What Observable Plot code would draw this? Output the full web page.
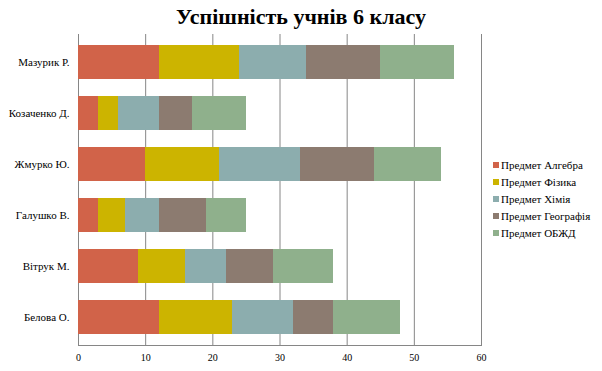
<!DOCTYPE html>
<html>
<head>
<meta charset="utf-8">
<script src="https://cdn.jsdelivr.net/npm/d3@7"></script>
<script src="https://cdn.jsdelivr.net/npm/@observablehq/plot@0.6"></script>
<style>
  html, body { margin: 0; padding: 0; background: #fff; }
  #wrap { position: relative; width: 602px; height: 371px; font-family: "Liberation Serif", "DejaVu Serif", serif; }
  #title { position: absolute; left: 0; top: 4px; width: 602px; text-align: center; font-size: 22px; font-weight: bold; color: #000; font-family: "Liberation Serif", serif; }
  #legend { position: absolute; left: 493px; top: 157px; font-size: 11px; color: #000; font-family: "Liberation Serif", serif; }
  .item { height: 16.8px; display: flex; align-items: center; white-space: nowrap; }
  .sw { width: 6px; height: 6px; margin-right: 2px; }
  #chart { position: absolute; left: 0; top: 0; }
</style>
</head>
<body>
<div id="wrap">
  <div id="chart"></div>
  <div id="title"></div>
  <div id="legend"></div>
</div>
<script>
const title = "Успішність учнів 6 класу";
const students = ["Мазурик Р.", "Козаченко Д.", "Жмурко Ю.", "Галушко В.", "Вітрук М.", "Белова О."];
const subjects = ["Предмет Алгебра", "Предмет Фізика", "Предмет Хімія", "Предмет Географія", "Предмет ОБЖД"];
const algebra   = [12, 3, 10, 3, 9, 12];
const physics   = [12, 3, 11, 4, 7, 11];
const chemistry = [10, 6, 12, 5, 6, 9];
const geography = [11, 5, 11, 7, 7, 6];
const obzhd     = [11, 8, 10, 6, 9, 10];
const xTicks = [0, 10, 20, 30, 40, 50, 60];
const colors = ["#D16349", "#CCB400", "#8CADAE", "#8C7B70", "#8FB08C"];

const series = [algebra, physics, chemistry, geography, obzhd];
const data = [];
students.forEach((s, i) => {
  subjects.forEach((subj, j) => {
    data.push({student: s, subject: subj, value: series[j][i]});
  });
});

const chart = Plot.plot({
  width: 602,
  height: 371,
  marginLeft: 78,
  marginRight: 121,
  marginTop: 34,
  marginBottom: 26,
  style: {background: "transparent", fontFamily: "'Liberation Serif', serif"},
  x: {domain: [0, 60], ticks: xTicks},
  y: {domain: students, paddingInner: 0.34, paddingOuter: 0.175},
  color: {domain: subjects, range: colors},
  marks: [
    Plot.ruleX(xTicks, {stroke: "#868686", strokeWidth: 1, strokeOpacity: 1}),
    Plot.barX(data, Plot.stackX({y: "student", x: "value", fill: "subject", order: null, insetLeft: 0, insetRight: 0, shapeRendering: "crispEdges"})),
    Plot.frame({anchor: "bottom", stroke: "#868686", strokeWidth: 1}),
    Plot.axisX({tickSize: 0, tickPadding: 8, fontSize: 10, label: null, fill: "#000"}),
    Plot.axisY({tickSize: 0, tickPadding: 9, fontSize: 11, label: null, fill: "#000"})
  ]
});
document.getElementById("chart").appendChild(chart);
document.getElementById("title").textContent = title;

const legend = document.getElementById("legend");
subjects.forEach((s, i) => {
  const item = document.createElement("div");
  item.className = "item";
  const sw = document.createElement("span");
  sw.className = "sw";
  sw.style.background = colors[i];
  const t = document.createElement("span");
  t.textContent = s;
  item.appendChild(sw);
  item.appendChild(t);
  legend.appendChild(item);
});
</script>
</body>
</html>
